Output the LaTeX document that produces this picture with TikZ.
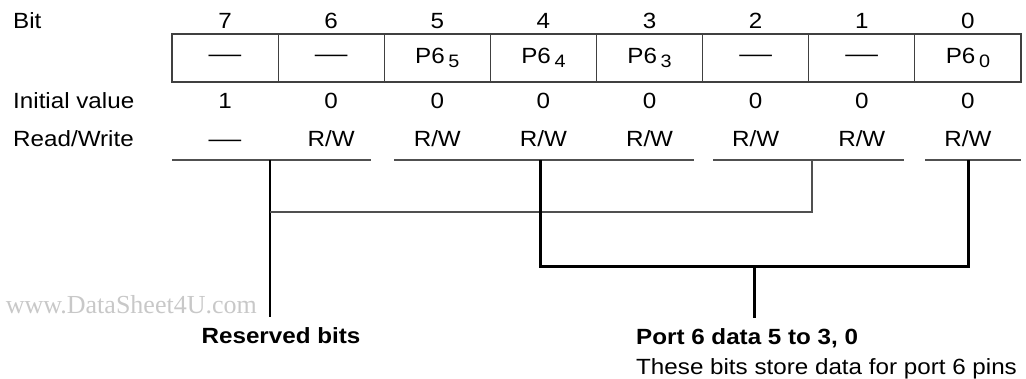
\documentclass[tikz,border=0pt]{standalone}
\usepackage{fontspec}
\setmainfont{Liberation Sans}[FakeStretch=1.1]
\newfontfamily\wmfont{Liberation Serif}
\definecolor{boxgray}{HTML}{404040}
\definecolor{linegray}{HTML}{505050}
\definecolor{wmgray}{HTML}{C8C8C8}
\newcommand{\regdash}{\scalebox{1.35}[1]{—}}
\newcommand{\psub}[1]{P6\,\raisebox{-4.5pt}{\fontsize{18}{18}\selectfont #1}}
\begin{document}
\begin{tikzpicture}[x=1pt,y=-1pt,
  txt/.style={font=\fontsize{22}{24}\selectfont, inner sep=0pt, anchor=base},
  lbl/.style={txt, anchor=base west},
  cell/.style={draw=boxgray, line width=1.2pt, minimum width=106.125pt, minimum height=48pt, inner sep=0pt, font=\fontsize{22}{24}\selectfont},
  thinline/.style={draw=linegray, line width=1.3pt},
  vline/.style={draw=black, line width=1.3pt},
  thickline/.style={draw=black, line width=3pt},
  bold/.style={font=\fontsize{22}{24}\selectfont\bfseries, inner sep=0pt},
]
\useasboundingbox (0,0) rectangle (1026,378);

% row labels
\node[lbl] (lbit) at (13,28) {Bit};
\node[lbl] (linit) at (13,108) {Initial value};
\node[lbl] (lrw) at (13,146) {Read/Write};

% register cells
\node[cell] (c7) at (225.06,58) {\regdash};
\node[cell] (c6) at (331.19,58) {\regdash};
\node[cell] (c5) at (437.31,58) {\psub{5}};
\node[cell] (c4) at (543.44,58) {\psub{4}};
\node[cell] (c3) at (649.56,58) {\psub{3}};
\node[cell] (c2) at (755.69,58) {\regdash};
\node[cell] (c1) at (861.81,58) {\regdash};
\node[cell] (c0) at (967.94,58) {\psub{0}};

% bit numbers
\foreach \b in {7,...,0}{
  \node[txt] (b\b) at (c\b |- 0,28) {\b};
}
% initial values
\node[txt] (i7) at (c7 |- 0,108) {1};
\foreach \b in {6,...,0}{
  \node[txt] (i\b) at (c\b |- 0,108) {0};
}
% read/write
\node[txt] (r7) at (c7 |- 0,146) {\regdash};
\foreach \b in {6,...,0}{
  \node[txt] (r\b) at (c\b |- 0,146) {R/W};
}

% group underlines
\coordinate (g1a) at (172,160);  \coordinate (g1b) at (371,160);
\coordinate (g2a) at (394,160);  \coordinate (g2b) at (694,160);
\coordinate (g3a) at (713,160);  \coordinate (g3b) at (904,160);
\coordinate (g4a) at (925,160);  \coordinate (g4b) at (1021,160);
\draw[thinline] (g1a) -- (g1b);
\draw[thinline] (g2a) -- (g2b);
\draw[thinline] (g3a) -- (g3b);
\draw[thinline] (g4a) -- (g4b);

% labels
\node[font=\wmfont\fontsize{26}{26}\selectfont, text=wmgray, inner sep=0pt, anchor=base east] (wm) at (257,313) {www.DataSheet4U.com};
\node[bold, anchor=base] (res) at (281,343) {Reserved bits};
\node[bold, anchor=base west] (port) at (636,344) {Port 6 data 5 to 3, 0};
\node[txt, anchor=base west] (portd) at (636,374) {These bits store data for port 6 pins};

% reserved-bit connector
\coordinate (rtop) at (270,160);
\coordinate (rbot) at (270,317);
\coordinate (rmid) at (270,212);
\coordinate (r2top) at (812,160);
\coordinate (r2mid) at (812,212);
\draw[vline] (rtop) -- (rbot);
\draw[thinline] (rmid) -- (r2mid) -- (r2top);

% port-data connector
\coordinate (p4top) at (540,160);
\coordinate (p0top) at (968,160);
\coordinate (p4bot) at (540,266);
\coordinate (p0bot) at (968,266);
\coordinate (pmid) at (754,266);
\coordinate (pend) at (754,318);
\draw[thickline, line join=miter] (p4top) -- (p4bot) -- (p0bot) -- (p0top);
\draw[thickline] (pmid) -- (pend);
\end{tikzpicture}
\end{document}
